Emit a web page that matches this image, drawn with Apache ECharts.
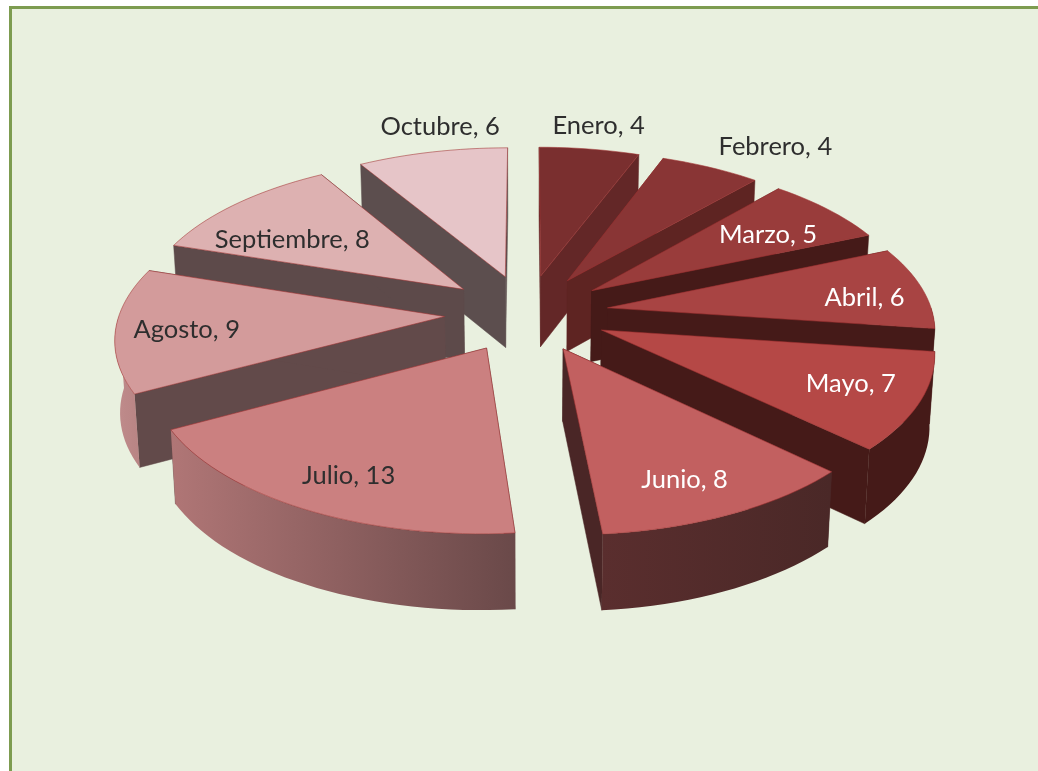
<!DOCTYPE html>
<html>
<head>
<meta charset="utf-8">
<style>
html,body{margin:0;padding:0;background:#fff;width:1038px;height:771px;overflow:hidden}
#frame{position:absolute;left:9px;top:6px;width:1029px;height:765px;box-sizing:border-box;background:#e9f0df;border-top:3px solid #7d9c50;border-left:3px solid #7d9c50}
#chart{position:absolute;left:0;top:0;width:1038px;height:771px;filter:blur(0.6px)}
</style>
<script src="https://cdn.jsdelivr.net/npm/echarts@6/dist/echarts.min.js"></script>
</head>
<body>
<div id="frame"></div>
<div id="chart"></div>
<script>
// Data
var months = ['Enero','Febrero','Marzo','Abril','Mayo','Junio','Julio','Agosto','Septiembre','Octubre'];
var counts = [4,4,5,6,7,8,13,9,8,6];

// Styles, one entry per month
var topColors  = ['#7a2f2f','#893535','#993c3b','#a84443','#b54846','#c26060','#cb8080','#d39b9b','#ddb1b1','#e6c5c8'];
var wallColors = ['#632727','#5e2422','#451a18','#451a18','#451a18','#4a2626','#6a4a4a','#624a4a','#5d4a4a','#5c4e4e'];
var rimLeft    = ['#632727','#5e2422','#451a18','#451a18','#451a18','#5a2e2e','#b07676','#c08c8c','#c08c8c','#c08c8c'];
var rimRight   = ['#632727','#5e2422','#451a18','#451a18','#451a18','#4a2827','#6a4949','#b88484','#c08c8c','#c08c8c'];
var textColors = ['#2e2e2e','#2e2e2e','#ffffff','#ffffff','#ffffff','#ffffff','#2e2e2e','#2e2e2e','#2e2e2e','#2e2e2e'];
var labelRadius = [1.213,1.283,0.712,0.805,0.788,0.800,0.805,0.785,0.668,1.208];
var labelTurn   = [0,5.2,1.9,3.2,-1.1,2.2,-1.4,-1.0,-6.9,3.7];

// Scene: ground-plane pie seen through a simple perspective
var view = {cx:526.5, cy:313, radius:325, explode:82, depth:192, persp:0.155, thick:71.5, shrink:0.987};
var reach = view.radius + view.explode;
function rad(d){return d*Math.PI/180;}
function project(X,Y){
  var v = Y/reach, s = 1/(1-view.persp*v);
  return {x:view.cx+X*s, y:view.cy+view.depth*v*s, s:s};
}
function under(p){return [view.cx+(p.x-view.cx)*view.shrink, p.y+view.thick*Math.pow(p.s,0.4)];}
function groundPoint(mid,ang,r){
  var ox=view.explode*Math.sin(rad(mid)), oy=-view.explode*Math.cos(rad(mid));
  return project(ox+r*view.radius*Math.sin(rad(ang)), oy-r*view.radius*Math.cos(rad(ang)));
}
function arcBetween(mid,from,to){
  var pts=[], n=Math.max(1,Math.ceil((to-from)/2));
  for(var k=0;k<=n;k++) pts.push(groundPoint(mid,from+(to-from)*k/n,1));
  return pts;
}

var total = counts.reduce(function(a,b){return a+b;},0);
var acc = 0;
var rows = counts.map(function(c,i){
  var a0 = acc/total*360; acc += c; var a1 = acc/total*360;
  return [c,a0,a1,i];
});
// Painter order: far slices first
rows.sort(function(p,q){
  return Math.cos(rad((q[1]+q[2])/2))-Math.cos(rad((p[1]+p[2])/2));
});

function renderSlice(params,api){
  var a0=api.value(1), a1=api.value(2), i=api.value(3), mid=(a0+a1)/2;
  var tip=groundPoint(mid,mid,0), arc=arcBetween(mid,a0,a1);
  var first=arc[0], last=arc[arc.length-1];
  var xy=function(p){return [p.x,p.y];};
  var wall=function(q){return {type:'polygon',shape:{points:q},style:{fill:wallColors[i],stroke:wallColors[i],lineWidth:0.5}};};
  var kids=[
    wall([xy(tip),xy(first),under(first),under(tip)]),
    wall([xy(tip),xy(last),under(last),under(tip)])
  ];
  // Only the part of the rim that faces the viewer
  var r0=Math.max(a0,90), r1=Math.min(a1,270);
  if(r1>r0){
    var rim=arcBetween(mid,r0,r1);
    kids.push({type:'polygon',shape:{points:rim.map(xy).concat(rim.slice().reverse().map(under))},
      style:{fill:new echarts.graphic.LinearGradient(0,0,1,0,[{offset:0,color:rimLeft[i]},{offset:1,color:rimRight[i]}]),lineWidth:0}});
  }
  kids.push({type:'polygon',shape:{points:[xy(tip)].concat(arc.map(xy))},
    style:{fill:topColors[i],stroke:'rgba(160,50,50,0.55)',lineWidth:1}});
  var lp=groundPoint(mid,mid+labelTurn[i],labelRadius[i]);
  kids.push({type:'text',x:lp.x,y:lp.y,style:{text:months[i]+', '+counts[i],x:0,y:0,align:'center',verticalAlign:'middle',fill:textColors[i],font:'25.5px Lato'}});
  return {type:'group',children:kids};
}

var chart = echarts.init(document.getElementById('chart'),null,{renderer:'canvas'});
chart.setOption({
  animation:false,
  backgroundColor:'transparent',
  series:[{type:'custom',coordinateSystem:'none',silent:true,renderItem:renderSlice,data:rows}]
});
</script>
</body>
</html>
